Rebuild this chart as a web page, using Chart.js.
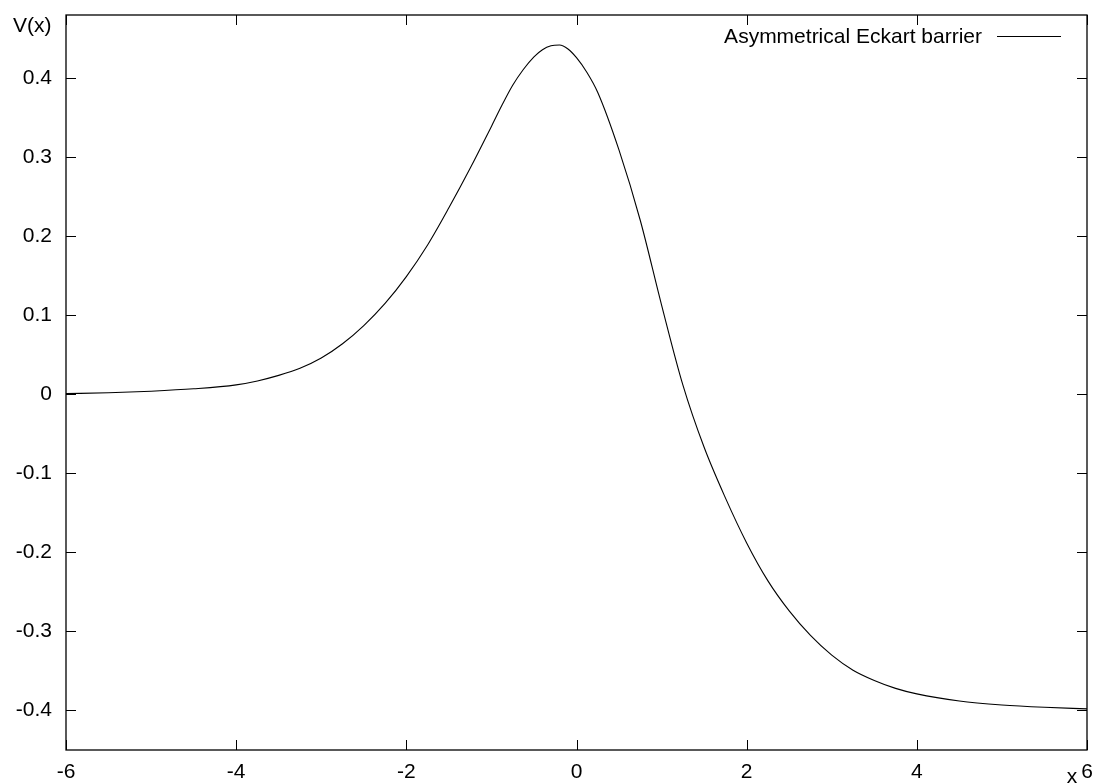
<!DOCTYPE html>
<html>
<head>
<meta charset="utf-8">
<script src="https://cdn.jsdelivr.net/npm/chart.js@4/dist/chart.umd.min.js"></script>
<style>
  html, body { margin: 0; padding: 0; background: #fff; }
  #wrap { width: 1100px; height: 784px; }
</style>
</head>
<body>
<div id="wrap"><canvas id="c" width="1100" height="784"></canvas></div>
<script>
// ---- data ----
const xValues = [-6, -5.5, -5, -4.5, -4, -3.75, -3.5, -3.25, -3, -2.75, -2.5, -2.25, -2, -1.75, -1.5, -1.25, -1, -0.875, -0.75, -0.625, -0.5, -0.4, -0.3, -0.2, -0.1, 0, 0.125, 0.25, 0.5, 0.75, 1, 1.25, 1.5, 1.75, 2, 2.25, 2.5, 2.75, 3, 3.25, 3.5, 3.75, 4, 4.5, 5, 5.5, 6];
const vValues = [0.001, 0.002, 0.004, 0.007, 0.012, 0.017, 0.024, 0.033, 0.046, 0.064, 0.087, 0.115, 0.149, 0.189, 0.236, 0.286, 0.339, 0.366, 0.391, 0.411, 0.427, 0.436, 0.441, 0.442, 0.437, 0.426, 0.407, 0.382, 0.309, 0.220, 0.113, 0.012, -0.067, -0.131, -0.188, -0.236, -0.274, -0.305, -0.330, -0.349, -0.362, -0.372, -0.379, -0.388, -0.393, -0.396, -0.398];
const xTicks = [-6, -4, -2, 0, 2, 4, 6];
const yTicks = [-0.4, -0.3, -0.2, -0.1, 0, 0.1, 0.2, 0.3, 0.4];
const yTickLabels = ['-0.4', '-0.3', '-0.2', '-0.1', '0', '0.1', '0.2', '0.3', '0.4'];
const seriesLabel = 'Asymmetrical Eckart barrier';
const xAxisLabel = 'x';
const yAxisLabel = 'V(x)';

const points = xValues.map((x, i) => ({ x: x, y: vValues[i] }));
const FONT = '"Liberation Sans", Arial, sans-serif';
const FSIZE = 21;

const gnuplotFrame = {
  id: 'gnuplotFrame',
  afterDraw(chart) {
    const ctx = chart.ctx;
    const a = chart.chartArea;
    const xs = chart.scales.x, ys = chart.scales.y;
    ctx.save();
    ctx.strokeStyle = '#000';
    ctx.lineWidth = 1.3;
    ctx.strokeRect(a.left, a.top, a.right - a.left, a.bottom - a.top);
    const t = 10;
    ctx.lineWidth = 1;
    ctx.beginPath();
    xTicks.forEach(v => {
      const p = Math.round(xs.getPixelForValue(v)) + 0.5;
      ctx.moveTo(p, a.bottom); ctx.lineTo(p, a.bottom - t);
      ctx.moveTo(p, a.top); ctx.lineTo(p, a.top + t);
    });
    yTicks.forEach(v => {
      const p = Math.round(ys.getPixelForValue(v)) + 0.5;
      ctx.moveTo(a.left, p); ctx.lineTo(a.left + t, p);
      ctx.moveTo(a.right, p); ctx.lineTo(a.right - t, p);
    });
    ctx.stroke();
    // axis labels
    ctx.fillStyle = '#000';
    ctx.font = FSIZE + 'px ' + FONT;
    ctx.textBaseline = 'middle';
    ctx.textAlign = 'left';
    ctx.fillText(yAxisLabel, 13, 26);
    ctx.textAlign = 'center';
    ctx.fillText(xAxisLabel, 1072, 777);
    // legend
    ctx.textAlign = 'right';
    ctx.fillText(seriesLabel, 982, 37);
    ctx.beginPath();
    ctx.moveTo(997, 36.5); ctx.lineTo(1061, 36.5);
    ctx.lineWidth = 1;
    ctx.strokeStyle = '#000';
    ctx.stroke();
    ctx.restore();
  }
};

new Chart(document.getElementById('c'), {
  type: 'scatter',
  data: {
    datasets: [{
      label: seriesLabel,
      data: points,
      showLine: true,
      borderColor: '#000',
      borderWidth: 1.1,
      pointRadius: 0,
      fill: false,
      cubicInterpolationMode: 'monotone'
    }]
  },
  options: {
    responsive: false,
    animation: false,
    devicePixelRatio: 1,
    layout: { padding: { top: 15, right: 13, left: 0, bottom: 0 } },
    plugins: { legend: { display: false }, tooltip: { enabled: false } },
    scales: {
      x: {
        type: 'linear',
        min: -6, max: 6,
        afterBuildTicks: s => { s.ticks = xTicks.map(v => ({ value: v })); },
        afterFit: s => { s.height = 34; s.paddingLeft = 0; s.paddingRight = 0; },
        grid: { display: false, drawTicks: false },
        border: { display: false },
        ticks: { color: '#000', font: { family: FONT, size: FSIZE }, padding: 10, maxRotation: 0, autoSkip: false,
                 callback: v => String(v) }
      },
      y: {
        type: 'linear',
        min: -0.45, max: 0.48,
        afterBuildTicks: s => { s.ticks = yTicks.map(v => ({ value: v })); },
        afterFit: s => { s.width = 66; s.paddingTop = 0; s.paddingBottom = 0; },
        grid: { display: false, drawTicks: false },
        border: { display: false },
        ticks: { color: '#000', font: { family: FONT, size: FSIZE }, padding: 14, autoSkip: false,
                 callback: (v, i) => yTickLabels[i] }
      }
    }
  },
  plugins: [gnuplotFrame]
});
</script>
</body>
</html>
